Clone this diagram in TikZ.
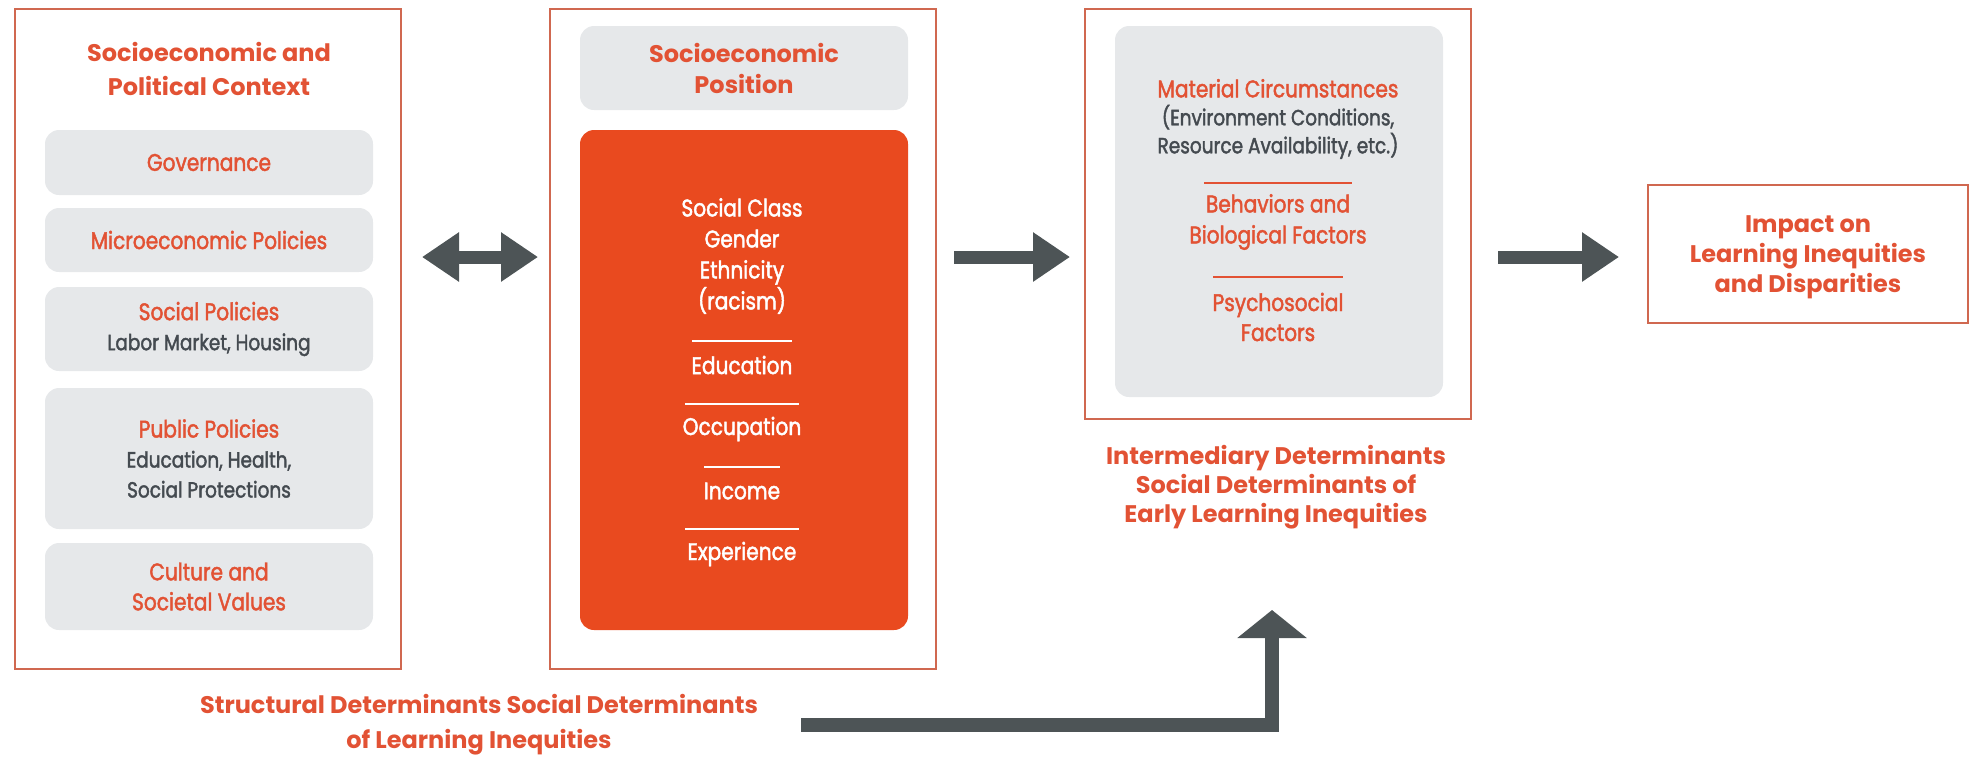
\documentclass[tikz,border=0pt]{standalone}
\usepackage{fontspec}
\setmainfont{Poppins}
\newfontfamily\headfont{Poppins}
\newfontfamily\narrowfont[FakeStretch=0.84, FakeBold=1.8]{Poppins}
\usetikzlibrary{arrows.meta}

\definecolor{redtxt}{RGB}{226,82,52}
\definecolor{orangefill}{RGB}{233,74,31}
\definecolor{framecol}{RGB}{208,104,80}
\definecolor{grayfill}{RGB}{230,232,234}
\definecolor{arrowcol}{RGB}{77,84,86}
\definecolor{subtxt}{RGB}{68,74,80}

\tikzset{
  outerbox/.style={draw=framecol, line width=1pt, minimum width=193pt, anchor=north west},
  panel/.style={fill=grayfill, rounded corners=7pt, minimum width=164pt, align=center,
    text=redtxt, font=\narrowfont\fontsize{12}{15}\selectfont},
  headtxt/.style={text=redtxt, align=center, font=\headfont\bfseries\fontsize{12}{15}\selectfont},
  itemtxt/.style={text=white, align=center, font=\narrowfont\fontsize{12}{15.5}\selectfont},
  bigarrow/.style={draw=arrowcol, line width=6.5pt},
  >={Triangle[width=23.5pt,length=18.5pt]}
}
\newcommand{\subline}[1]{{\color{subtxt}\fontsize{11}{13.5}\selectfont #1}}

\begin{document}
\begin{tikzpicture}[x=0.5pt,y=-0.5pt]
\useasboundingbox (0,0) rectangle (1974,756);

% outer frames
\node[outerbox, minimum height=330pt] (ctxbox) at (14,8) {};
\node[outerbox, minimum height=330pt] (posbox) at (549,8) {};
\node[outerbox, minimum height=205pt] (interbox) at (1084,8) {};
\node[draw=framecol, line width=1pt, minimum width=160pt, minimum height=69pt] (impbox) at (1808,254) {};

% socioeconomic and political context
\node[headtxt, font=\headfont\bfseries\fontsize{12}{17}\selectfont] (ctxtitle) at (209,69) {Socioeconomic and\\Political Context};
\node[panel, minimum height=32.5pt] (gov) at (209,162.5) {Governance};
\node[panel, minimum height=32pt] (micro) at (209,240) {Microeconomic Policies};
\node[panel, minimum height=42pt] (social) at (209,329) {Social Policies\\\subline{Labor Market, Housing}};
\node[panel, minimum height=70.5pt] (public) at (209,458.5) {Public Policies\\\subline{Education, Health,}\\\subline{Social Protections}};
\node[panel, minimum height=43.5pt] (culture) at (209,586.5) {Culture and\\Societal Values};

% socioeconomic position
\node[panel, minimum height=42pt, font=\headfont\bfseries\fontsize{12}{15.5}\selectfont] (postitle) at (744,68) {Socioeconomic\\Position};
\node[fill=orangefill, rounded corners=7pt, minimum width=164pt, minimum height=250pt] (posfill) at (744,380) {};
\node[itemtxt] (classes) at (742,256) {Social Class\\Gender\\Ethnicity\\(racism)};
\node[itemtxt] (educ) at (742,365) {Education};
\node[itemtxt] (occup) at (742,429) {Occupation};
\node[itemtxt] (income) at (742,491) {Income};
\node[itemtxt] (exper) at (742,554) {Experience};
\foreach \y/\w in {341/50,404/57,467/38,529/57} {
\draw[white, line width=0.8pt] (742-\w,\y) -- (742+\w,\y);
}

% intermediary determinants
\node[panel, minimum height=185.5pt] (interfill) at (1279,211.5) {};
\node[text=redtxt, align=center, font=\narrowfont\fontsize{12}{14}\selectfont] (material) at (1278,119) {Material Circumstances\\\subline{(Environment Conditions,}\\\subline{Resource Availability, etc.)}};
\node[text=redtxt, align=center, font=\narrowfont\fontsize{12}{15.5}\selectfont] (behav) at (1278,222) {Behaviors and\\Biological Factors};
\node[text=redtxt, align=center, font=\narrowfont\fontsize{12}{15}\selectfont] (psycho) at (1278,317) {Psychosocial\\Factors};
\foreach \y/\w in {183/74,277/65} {
\draw[redtxt, line width=1pt] (1278-\w,\y) -- (1278+\w,\y);
}
\node[headtxt, font=\headfont\bfseries\fontsize{12}{14.5}\selectfont] (intertxt) at (1276,487) {Intermediary Determinants\\Social Determinants of\\Early Learning Inequities};

% impact
\node[headtxt] (imptxt) at (1808,257) {Impact on\\Learning Inequities\\and Disparities};

% structural determinants
\node[headtxt, font=\headfont\bfseries\fontsize{12}{17.5}\selectfont] (struct) at (479,725) {Structural Determinants Social Determinants\\of Learning Inequities};
\coordinate (uptip) at (1272,610);

% arrows
\draw[bigarrow, <->, shorten <=10pt, shorten >=5.5pt] (ctxbox.east |- imptxt.west) -- (posbox.west |- imptxt.west);
\draw[bigarrow, ->, shorten <=8.5pt, shorten >=7pt] (posbox.east |- imptxt.west) -- (interbox.west |- imptxt.west);
\draw[bigarrow, ->, shorten <=13pt, shorten >=14pt] (interbox.east |- imptxt.west) -- (impbox.west |- imptxt.west);
\draw[bigarrow, line width=7pt, -{Triangle[width=34pt,length=14pt]}, shorten <=18pt] (struct.east) -| (uptip);
\end{tikzpicture}
\end{document}
